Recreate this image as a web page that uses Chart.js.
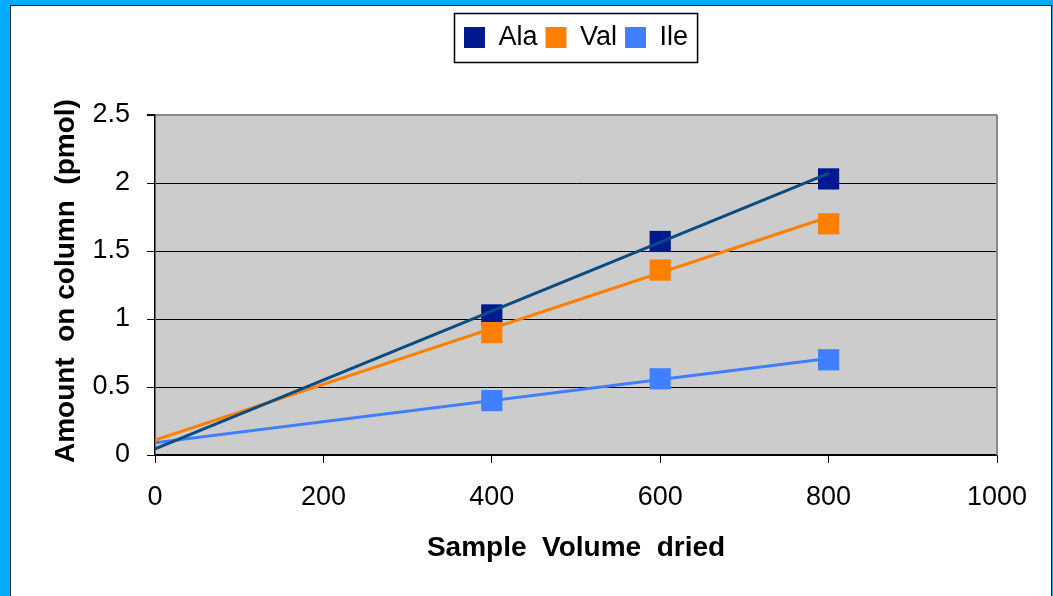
<!DOCTYPE html>
<html>
<head>
<meta charset="utf-8">
<script src="https://cdn.jsdelivr.net/npm/chart.js@4/dist/chart.umd.min.js"></script>
<style>
  body { margin: 0; background: #00aaff; width: 1053px; height: 596px; overflow: hidden; position: relative; }
  #frame { position: absolute; left: 10px; top: 5px; width: 1040px; height: 620px; background: #fff; border: 1px solid #222; }
  #wrap { position: absolute; left: 0; top: 0; width: 1053px; height: 596px; }
</style>
</head>
<body>
<div id="frame"></div>
<div id="wrap"><canvas id="myChart" width="1053" height="596"></canvas></div>
<script>
// values
var seriesNames = ['Ala', 'Val', 'Ile'];
var sampleVolume = [400, 600, 800];
var alaValues = [1.03, 1.57, 2.03];
var valValues = [0.90, 1.36, 1.70];
var ileValues = [0.40, 0.56, 0.70];
// trend lines, value at x = 0 and x = 800
var trendX = [0, 800];
var alaTrend = [0.045, 2.07];
var valTrend = [0.11, 1.75];
var ileTrend = [0.09, 0.71];
var xTicks = [0, 200, 400, 600, 800, 1000];
var yTicks = [0, 0.5, 1, 1.5, 2, 2.5];

var markerColors = ['#001890', '#ff8000', '#4080ff'];
var trendColors = ['#0a4c80', '#ff8000', '#4080ff'];
var FONT = 'Arial, "Liberation Sans", sans-serif';

function pts(xs, ys) {
  return xs.map(function (x, i) { return { x: x, y: ys[i] }; });
}

var values = [alaValues, valValues, ileValues];
var trends = [alaTrend, valTrend, ileTrend];
var datasets = [];
seriesNames.forEach(function (name, i) {
  datasets.push({
    label: name,
    data: pts(sampleVolume, values[i]),
    backgroundColor: markerColors[i],
    borderWidth: 0,
    pointStyle: 'rect',
    pointRadius: 15,
    pointHoverRadius: 15,
    showLine: false,
    order: 10 - i
  });
});
seriesNames.forEach(function (name, i) {
  datasets.push({
    label: name + ' trend',
    data: pts(trendX, trends[i]),
    borderColor: trendColors[i],
    borderWidth: 3,
    pointRadius: 0,
    showLine: true,
    fill: false,
    order: 0
  });
});

var plotBg = {
  id: 'plotBg',
  beforeDraw: function (chart) {
    var a = chart.chartArea, ctx = chart.ctx;
    ctx.save();
    ctx.fillStyle = '#cccccc';
    ctx.fillRect(a.left, a.top, a.right - a.left, a.bottom - a.top);
    ctx.restore();
  },
  beforeDatasetsDraw: function (chart) {
    var a = chart.chartArea, ctx = chart.ctx;
    ctx.save();
    ctx.strokeStyle = '#8a8a8a';
    ctx.lineWidth = 2;
    ctx.beginPath();
    ctx.moveTo(a.right, a.top);
    ctx.lineTo(a.right, a.bottom);
    ctx.stroke();
    ctx.restore();
  },
  afterDraw: function (chart) {
    // box round the legend
    var boxes = chart.legend.legendHitBoxes;
    if (!boxes || !boxes.length) return;
    var l = boxes[0].left, r = boxes[boxes.length - 1].left + boxes[boxes.length - 1].width;
    var cy = boxes[0].top + boxes[0].height / 2;
    var ctx = chart.ctx;
    ctx.save();
    ctx.strokeStyle = '#000';
    ctx.lineWidth = 1.5;
    ctx.strokeRect(Math.round(l) - 9.5, Math.round(cy) - 24.5, r - l + 19, 49);
    ctx.restore();
  }
};

var ctx = document.getElementById('myChart').getContext('2d');
var myChart = new Chart(ctx, {
  type: 'scatter',
  data: { datasets: datasets },
  options: {
    responsive: false,
    animation: false,
    devicePixelRatio: 1,
    layout: { padding: { top: 16, left: 0, right: 56, bottom: 0 } },
    plugins: {
      tooltip: { enabled: false },
      legend: {
        position: 'top',
        fullSize: false,
        labels: {
          color: '#000',
          font: { family: FONT, size: 27 },
          boxWidth: 21,
          boxHeight: 21,
          padding: 8,
          filter: function (item) { return item.datasetIndex < 3; },
          sort: function (a, b) { return a.datasetIndex - b.datasetIndex; }
        }
      }
    },
    scales: {
      x: {
        type: 'linear',
        min: 0,
        max: 1000,
        afterBuildTicks: function (s) { s.ticks = xTicks.map(function (v) { return { value: v }; }); },
        afterFit: function (s) { s.height = 141; },
        border: { display: true, color: '#000', width: 1.5 },
        grid: { drawOnChartArea: false, drawTicks: true, tickLength: 8, color: '#000', tickColor: '#000' },
        ticks: {
          color: '#000', font: { family: FONT, size: 27 }, padding: 18, maxRotation: 0,
          callback: function (v) { return String(v); }
        },
        title: {
          display: true,
          text: 'Sample  Volume  dried',
          color: '#000',
          font: { family: FONT, size: 28, weight: 'bold' },
          padding: { top: 0, bottom: 31 }
        }
      },
      x2: {
        type: 'linear',
        position: 'top',
        display: true,
        min: 0,
        max: 1000,
        afterFit: function (s) { s.height = 54; },
        border: { display: false },
        grid: { display: false },
        ticks: { display: false }
      },
      y: {
        type: 'linear',
        min: 0,
        max: 2.5,
        afterBuildTicks: function (s) { s.ticks = yTicks.map(function (v) { return { value: v }; }); },
        afterFit: function (s) { s.width = 155; },
        border: { display: true, color: '#000', width: 1.5 },
        grid: {
          color: function (c) { return c.tick && c.tick.value === 2.5 ? '#8a8a8a' : '#000'; },
          lineWidth: function (c) { return c.tick && c.tick.value === 2.5 ? 2 : 1; },
          tickColor: '#000',
          tickLength: 8
        },
        ticks: {
          color: '#000', font: { family: FONT, size: 27 }, padding: 17,
          callback: function (v) { return String(v); }
        },
        title: {
          display: true,
          text: ' Amount  on column  (pmol)',
          color: '#000',
          font: { family: FONT, size: 28, weight: 'bold' },
          padding: { top: 49, bottom: 0 }
        }
      }
    }
  },
  plugins: [plotBg]
});
</script>
</body>
</html>
